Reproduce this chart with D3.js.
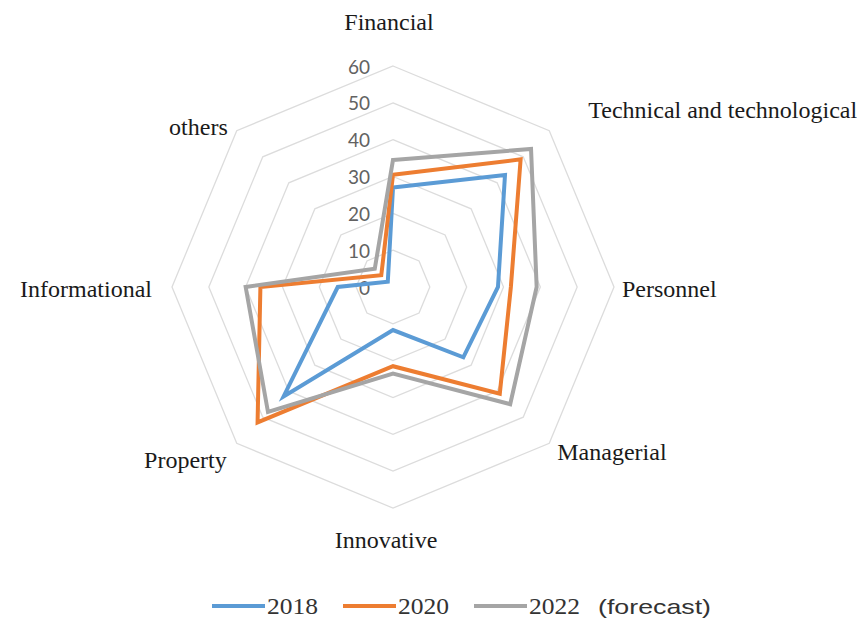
<!DOCTYPE html>
<html><head><meta charset="utf-8">
<script src="https://cdn.jsdelivr.net/npm/d3@7"></script>
<style>body{margin:0;background:#fff}</style>
</head><body>
<svg id="chart" width="857" height="622"></svg>
<script>
const categories = ["Financial","Technical and technological","Personnel","Managerial","Innovative","Property","Informational","others"];
const series2018 = [27, 43, 28.5, 27, 11.7, 42, 15, 2];
const series2020 = [30.5, 49, 32, 41, 21.5, 52, 36, 4.5];
const series2022 = [34.5, 53, 39, 45, 23.5, 48, 40, 7];
const tickValues = [0,10,20,30,40,50,60];
const seriesNames = ["2018","2020","2022"];

const svg = d3.select("#chart");
const cx = 393, cy = 287;
const r = d3.scaleLinear().domain([0,60]).range([0,221]);
const angle = d3.scaleLinear().domain([0, categories.length]).range([0, 2*Math.PI]);
const pt = (i, v) => [cx + r(v)*Math.sin(angle(i)), cy - r(v)*Math.cos(angle(i))];

// grid rings
const ringLine = d3.line();
tickValues.filter(t => t > 0).forEach(t => {
  const pts = categories.map((c,i) => pt(i,t));
  svg.append("path").attr("d", ringLine(pts) + "Z")
    .attr("fill","none").attr("stroke","#dcdcdc").attr("stroke-width",1.3);
});

// tick labels
svg.selectAll(".tick").data(tickValues).enter().append("text")
  .attr("x", cx - 23).attr("y", d => cy - r(d))
  .attr("text-anchor","end").attr("dominant-baseline","central")
  .attr("font-family","Lato, 'Open Sans', sans-serif").attr("font-size",19)
  .attr("fill","#626262").text(d => d);

// series
const colors = ["#5b9bd5","#ed7d31","#a5a5a5"];
const allSeries = [series2018, series2020, series2022];
const radarLine = d3.lineRadial().angle((d,i) => angle(i)).radius(d => r(d)).curve(d3.curveLinearClosed);
allSeries.forEach((s, k) => {
  svg.append("path").attr("transform", `translate(${cx},${cy})`)
    .attr("d", radarLine(s)).attr("fill","none")
    .attr("stroke", colors[k]).attr("stroke-width",4).attr("stroke-linejoin","miter");
});

// category labels
const labelOffsets = [[-4,-44,"middle"],[39,-21,"start"],[8,2,"start"],[8,9,"start"],[-7,32,"middle"],[-10,17,"end"],[-20,2,"end"],[-9,-4,"end"]];
categories.forEach((c,i) => {
  const [x,y] = pt(i,60);
  const o = labelOffsets[i];
  svg.append("text").attr("x", x + o[0]).attr("y", y + o[1])
    .attr("text-anchor", o[2]).attr("dominant-baseline","central")
    .attr("font-family","'Liberation Serif', 'Times New Roman', serif").attr("font-size",24)
    .attr("fill","#1a1a1a").text(c);
});

// legend
const legendX = [212, 343, 474];
const ly = 606;
seriesNames.forEach((n,k) => {
  svg.append("line").attr("x1", legendX[k]).attr("x2", legendX[k]+53)
    .attr("y1", ly).attr("y2", ly).attr("stroke", colors[k]).attr("stroke-width",4);
  svg.append("text").attr("x", legendX[k]+55).attr("y", ly)
    .attr("dominant-baseline","central")
    .attr("font-family","'Liberation Serif', 'Times New Roman', serif").attr("font-size",24)
    .attr("textLength", 51).attr("lengthAdjust","spacingAndGlyphs")
    .attr("fill","#333").text(n);
});
svg.append("text").attr("x", 598).attr("y", ly)
  .attr("dominant-baseline","central")
  .attr("font-family","'Liberation Sans', Arial, sans-serif").attr("font-size",21)
  .attr("textLength", 113).attr("lengthAdjust","spacingAndGlyphs")
  .attr("fill","#333").text("(forecast)");
</script>
</body></html>
